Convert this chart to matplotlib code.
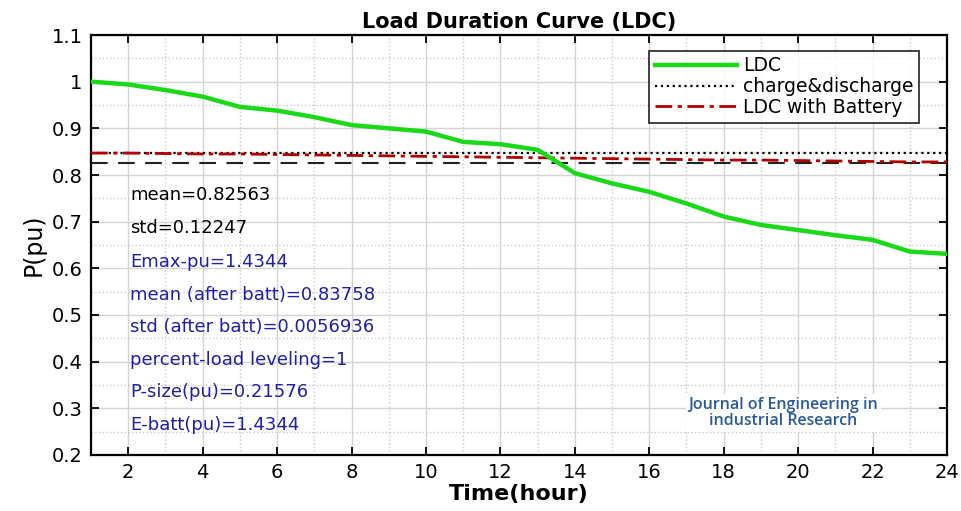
import numpy as np
import matplotlib.pyplot as plt
from matplotlib.ticker import MultipleLocator

# hourly values
hours = np.arange(1, 25)
ldc = [1.000, 0.994, 0.982, 0.968, 0.946, 0.938, 0.924, 0.907, 0.900, 0.893, 0.871, 0.866,
       0.854, 0.804, 0.782, 0.764, 0.739, 0.711, 0.693, 0.682, 0.671, 0.661, 0.636, 0.631]
ldc_batt = [0.847, 0.847, 0.846, 0.845, 0.845, 0.844, 0.843, 0.842, 0.841, 0.840, 0.839, 0.838,
            0.837, 0.836, 0.835, 0.834, 0.833, 0.832, 0.832, 0.831, 0.830, 0.829, 0.828, 0.828]
charge_level = [0.847] * 24
mean_level = 0.82563

stats_black = ['mean=0.82563', 'std=0.12247']
stats_blue = ['Emax-pu=1.4344', 'mean (after batt)=0.83758', 'std (after batt)=0.0056936',
              'percent-load leveling=1', 'P-size(pu)=0.21576', 'E-batt(pu)=1.4344']
stats_y = [0.757, 0.686, 0.614, 0.543, 0.474, 0.404, 0.335, 0.264]

plt.rcParams['font.family'] = ['DejaVu Sans']

fig = plt.figure(figsize=(9.61, 5.11), dpi=100)
ax = fig.add_axes([0.0947, 0.1096, 0.8907, 0.8219])

ax.plot(hours, ldc, color='#19d919', lw=3.2, label='LDC', zorder=5)
ax.plot(hours, charge_level, color='black', ls=':', lw=1.6, label='charge&discharge', zorder=4)
ax.plot(hours, ldc_batt, color='#b00000', ls='-.', lw=2.0, dashes=(6, 2, 1.5, 2),
        label='LDC with Battery', zorder=4)
ax.plot(hours, [mean_level] * len(hours), color='#222222', ls='--', lw=1.5,
        dashes=(8, 5), zorder=3)

ax.set_xlim(1, 24)
ax.set_ylim(0.2, 1.1)
ax.xaxis.set_major_locator(MultipleLocator(2))
ax.xaxis.set_minor_locator(MultipleLocator(1))
ax.yaxis.set_minor_locator(MultipleLocator(0.05))
ax.set_yticks(np.round(np.arange(0.2, 1.11, 0.1), 1))
ax.set_yticklabels(['0.2', '0.3', '0.4', '0.5', '0.6', '0.7', '0.8', '0.9', '1', '1.1'])
ax.grid(which='major', color='#d4d4d4', lw=1.0)
ax.grid(which='minor', color='#c8c8c8', ls=':', lw=1.0)
ax.tick_params(which='major', direction='in', length=6, width=1.3,
               top=True, right=True, labelsize=14, pad=6)
ax.tick_params(which='minor', length=0)
for s in ax.spines.values():
    s.set_linewidth(1.6)

ax.set_title('Load Duration Curve (LDC)', fontsize=15, fontweight='bold', pad=5)
ax.set_xlabel('Time(hour)', fontsize=16, fontweight='bold', labelpad=1)
ax.set_ylabel('P(pu)', fontsize=17, labelpad=4)

labels = stats_black + stats_blue
colors = ['black'] * len(stats_black) + ['#1f1fa6'] * len(stats_blue)
for txt, yv, c in zip(labels, stats_y, colors):
    ax.text(2.05, yv, txt, color=c, fontsize=13, va='center', ha='left', zorder=6)

ax.text(19.6, 0.29, 'Journal of Engineering in\nindustrial Research',
        ha='center', va='center', fontsize=11.5,
        family='Open Sans', fontweight='semibold', color='#2a5a96', linespacing=1.0,
        bbox=dict(facecolor='white', edgecolor='none', pad=2), zorder=6)

leg = ax.legend(loc='upper right', fontsize=13.5, frameon=True, fancybox=False,
                edgecolor='black', handlelength=4.4, handletextpad=0.3,
                borderpad=0.3, labelspacing=0.1, bbox_to_anchor=(0.978, 0.985))
leg.get_frame().set_linewidth(1.3)
leg.set_zorder(10)

fig.savefig('out.png', dpi=100)
